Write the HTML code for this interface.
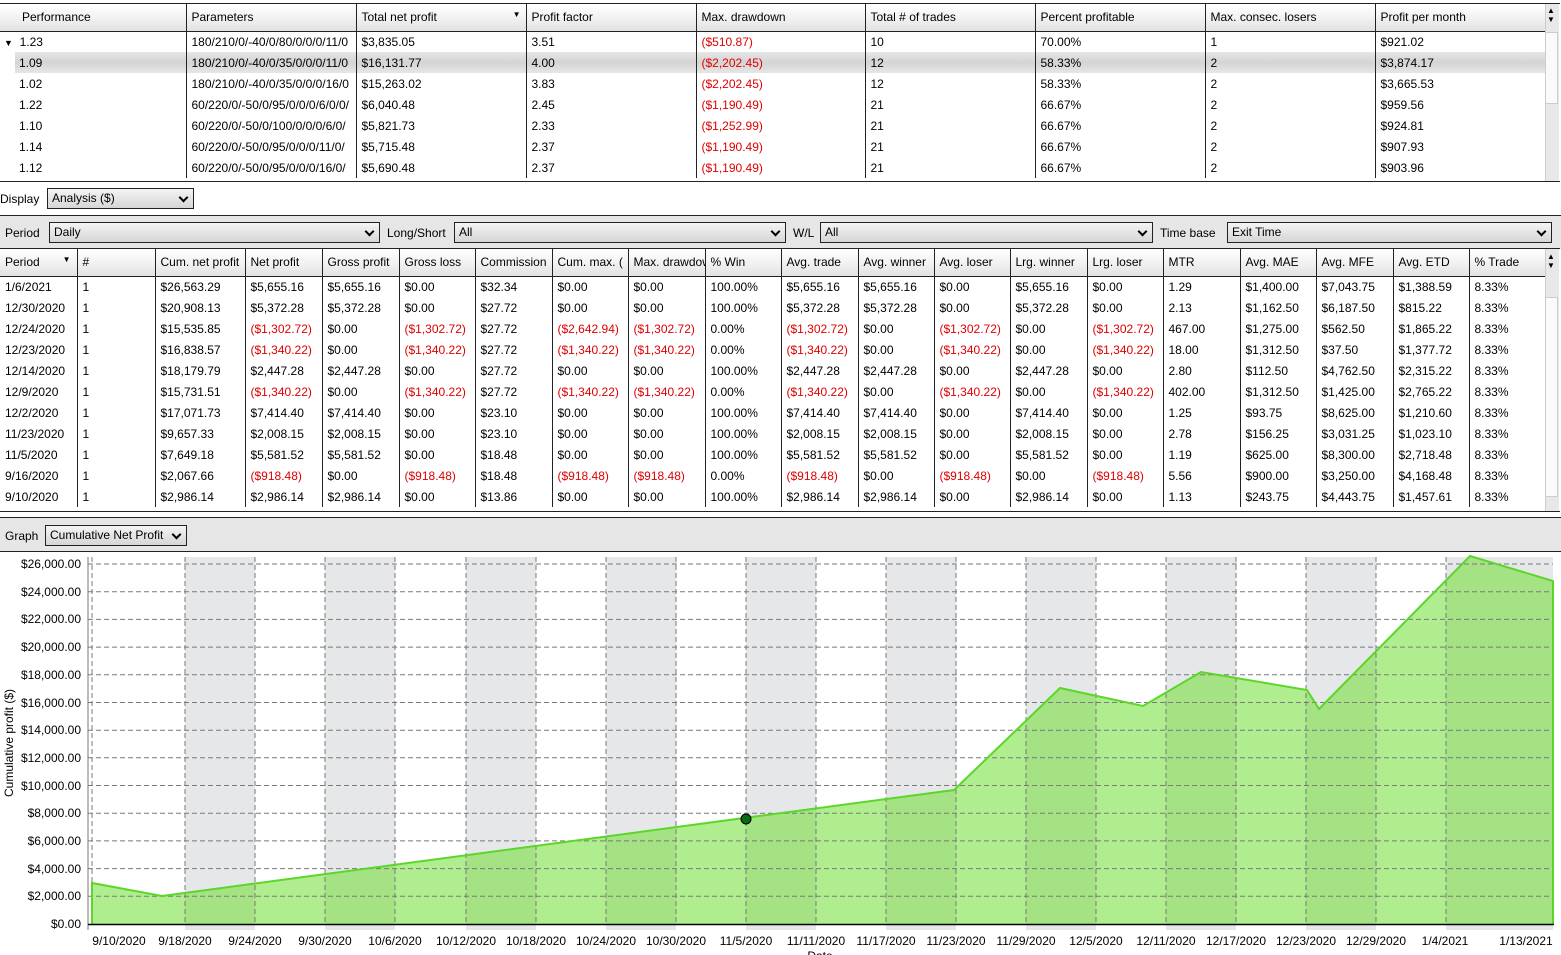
<!DOCTYPE html>
<html><head><meta charset="utf-8">
<style>
*{margin:0;padding:0;box-sizing:border-box}
body{width:1561px;height:955px;overflow:hidden;background:#fff;font-family:"Liberation Sans",Arial,sans-serif;font-size:12px;color:#000;position:relative}
.abs{position:absolute}
table{border-collapse:collapse;table-layout:fixed;position:absolute;font-size:12px}
td,th{white-space:nowrap;overflow:hidden;text-align:left;font-weight:normal;padding-left:5px;border-left:1px solid #222}
th{height:27px;background:linear-gradient(#ffffff,#f4f4f4 45%,#e2e2e2);border-bottom:1px solid #222}
td{height:21px}
.r{color:#e00000}
.sel{position:absolute;height:21px;border:1px solid #222;background:linear-gradient(#f4f4f4,#d6d6d6);padding-left:4px;line-height:19px}
.sel:after{content:"";position:absolute;right:6px;top:5px;width:5px;height:5px;border-right:2px solid #000;border-bottom:2px solid #000;transform:rotate(45deg)}
.sb{position:absolute;background:#e8e8e8;border-left:1px solid #ccc}
</style></head><body>

<!-- top table -->
<div class="abs" style="left:0;top:3px;width:1560px;height:179px;border-top:1px solid #222;border-bottom:1px solid #222"></div>
<div class="abs" style="left:15px;top:52px;width:1530px;height:21px;background:linear-gradient(#e6e6e6,#d4d4d4 50%,#e6e6e6)"></div>
<table style="left:0;top:4px;width:1545px">
<colgroup><col style="width:186px"><col style="width:170px"><col style="width:170px"><col style="width:170px"><col style="width:169px"><col style="width:170px"><col style="width:170px"><col style="width:170px"><col style="width:170px"></colgroup>
<tr><th style="border-left:none;padding-left:22px">Performance</th><th>Parameters</th><th>Total net profit<span style="float:right;margin-right:5px;font-size:8px">&#9660;</span></th><th>Profit factor</th><th>Max. drawdown</th><th>Total # of trades</th><th>Percent profitable</th><th>Max. consec. losers</th><th>Profit per month</th></tr>
<tr><td style="border-left:none;padding-left:4px"><span style="font-size:9px">&#9660;</span>&nbsp; 1.23</td><td>180/210/0/-40/0/80/0/0/0/11/0</td><td>$3,835.05</td><td>3.51</td><td class="r">($510.87)</td><td>10</td><td>70.00%</td><td>1</td><td>$921.02</td></tr>
<tr><td style="border-left:none;padding-left:19px">1.09</td><td>180/210/0/-40/0/35/0/0/0/11/0</td><td>$16,131.77</td><td>4.00</td><td class="r">($2,202.45)</td><td>12</td><td>58.33%</td><td>2</td><td>$3,874.17</td></tr>
<tr><td style="border-left:none;padding-left:19px">1.02</td><td>180/210/0/-40/0/35/0/0/0/16/0</td><td>$15,263.02</td><td>3.83</td><td class="r">($2,202.45)</td><td>12</td><td>58.33%</td><td>2</td><td>$3,665.53</td></tr>
<tr><td style="border-left:none;padding-left:19px">1.22</td><td>60/220/0/-50/0/95/0/0/0/6/0/0/</td><td>$6,040.48</td><td>2.45</td><td class="r">($1,190.49)</td><td>21</td><td>66.67%</td><td>2</td><td>$959.56</td></tr>
<tr><td style="border-left:none;padding-left:19px">1.10</td><td>60/220/0/-50/0/100/0/0/0/6/0/</td><td>$5,821.73</td><td>2.33</td><td class="r">($1,252.99)</td><td>21</td><td>66.67%</td><td>2</td><td>$924.81</td></tr>
<tr><td style="border-left:none;padding-left:19px">1.14</td><td>60/220/0/-50/0/95/0/0/0/11/0/</td><td>$5,715.48</td><td>2.37</td><td class="r">($1,190.49)</td><td>21</td><td>66.67%</td><td>2</td><td>$907.93</td></tr>
<tr><td style="border-left:none;padding-left:19px">1.12</td><td>60/220/0/-50/0/95/0/0/0/16/0/</td><td>$5,690.48</td><td>2.37</td><td class="r">($1,190.49)</td><td>21</td><td>66.67%</td><td>2</td><td>$903.96</td></tr>
</table>
<div class="sb" style="left:1545px;top:4px;width:14px;height:177px"></div>
<div class="abs" style="left:1545px;top:32px;width:13px;height:72px;background:#fafafa;border:1px solid #ccc"></div>
<div class="abs" style="left:1547px;top:6px;font-size:8px;line-height:9px">&#9650;<br>&#9660;</div>

<!-- display -->
<div class="abs" style="left:0;top:192px">Display</div>
<div class="sel" style="left:47px;top:188px;width:147px">Analysis ($)</div>

<!-- filters -->
<div class="abs" style="left:0;top:215px;width:1561px;height:34px;background:#e6e6e6;border-top:1px solid #222"></div>
<div class="abs" style="left:5px;top:226px">Period</div>
<div class="sel" style="left:49px;top:222px;width:331px">Daily</div>
<div class="abs" style="left:387px;top:226px">Long/Short</div>
<div class="sel" style="left:454px;top:222px;width:332px">All</div>
<div class="abs" style="left:793px;top:226px">W/L</div>
<div class="sel" style="left:820px;top:222px;width:333px">All</div>
<div class="abs" style="left:1160px;top:226px">Time base</div>
<div class="sel" style="left:1227px;top:222px;width:325px">Exit Time</div>

<!-- second table -->
<div class="abs" style="left:0;top:248px;width:1560px;height:264px;border-top:1px solid #222;border-bottom:1px solid #222"></div>
<table style="left:0;top:249px;width:1545px">
<colgroup><col style="width:77px"><col style="width:78px"><col style="width:90px"><col style="width:77px"><col style="width:77px"><col style="width:76px"><col style="width:77px"><col style="width:76px"><col style="width:77px"><col style="width:76px"><col style="width:77px"><col style="width:76px"><col style="width:76px"><col style="width:77px"><col style="width:76px"><col style="width:77px"><col style="width:76px"><col style="width:77px"><col style="width:76px"><col style="width:76px"></colgroup>
<tr><th style="border-left:none">Period<span style="float:right;margin-right:6px;font-size:8px">&#9660;</span></th><th>#</th><th>Cum. net profit</th><th>Net profit</th><th>Gross profit</th><th>Gross loss</th><th>Commission</th><th>Cum. max. (</th><th>Max. drawdown</th><th>% Win</th><th>Avg. trade</th><th>Avg. winner</th><th>Avg. loser</th><th>Lrg. winner</th><th>Lrg. loser</th><th>MTR</th><th>Avg. MAE</th><th>Avg. MFE</th><th>Avg. ETD</th><th>% Trade</th></tr>
<tr><td style="border-left:none">1/6/2021</td><td>1</td><td>$26,563.29</td><td>$5,655.16</td><td>$5,655.16</td><td>$0.00</td><td>$32.34</td><td>$0.00</td><td>$0.00</td><td>100.00%</td><td>$5,655.16</td><td>$5,655.16</td><td>$0.00</td><td>$5,655.16</td><td>$0.00</td><td>1.29</td><td>$1,400.00</td><td>$7,043.75</td><td>$1,388.59</td><td>8.33%</td></tr>
<tr><td style="border-left:none">12/30/2020</td><td>1</td><td>$20,908.13</td><td>$5,372.28</td><td>$5,372.28</td><td>$0.00</td><td>$27.72</td><td>$0.00</td><td>$0.00</td><td>100.00%</td><td>$5,372.28</td><td>$5,372.28</td><td>$0.00</td><td>$5,372.28</td><td>$0.00</td><td>2.13</td><td>$1,162.50</td><td>$6,187.50</td><td>$815.22</td><td>8.33%</td></tr>
<tr><td style="border-left:none">12/24/2020</td><td>1</td><td>$15,535.85</td><td class="r">($1,302.72)</td><td>$0.00</td><td class="r">($1,302.72)</td><td>$27.72</td><td class="r">($2,642.94)</td><td class="r">($1,302.72)</td><td>0.00%</td><td class="r">($1,302.72)</td><td>$0.00</td><td class="r">($1,302.72)</td><td>$0.00</td><td class="r">($1,302.72)</td><td>467.00</td><td>$1,275.00</td><td>$562.50</td><td>$1,865.22</td><td>8.33%</td></tr>
<tr><td style="border-left:none">12/23/2020</td><td>1</td><td>$16,838.57</td><td class="r">($1,340.22)</td><td>$0.00</td><td class="r">($1,340.22)</td><td>$27.72</td><td class="r">($1,340.22)</td><td class="r">($1,340.22)</td><td>0.00%</td><td class="r">($1,340.22)</td><td>$0.00</td><td class="r">($1,340.22)</td><td>$0.00</td><td class="r">($1,340.22)</td><td>18.00</td><td>$1,312.50</td><td>$37.50</td><td>$1,377.72</td><td>8.33%</td></tr>
<tr><td style="border-left:none">12/14/2020</td><td>1</td><td>$18,179.79</td><td>$2,447.28</td><td>$2,447.28</td><td>$0.00</td><td>$27.72</td><td>$0.00</td><td>$0.00</td><td>100.00%</td><td>$2,447.28</td><td>$2,447.28</td><td>$0.00</td><td>$2,447.28</td><td>$0.00</td><td>2.80</td><td>$112.50</td><td>$4,762.50</td><td>$2,315.22</td><td>8.33%</td></tr>
<tr><td style="border-left:none">12/9/2020</td><td>1</td><td>$15,731.51</td><td class="r">($1,340.22)</td><td>$0.00</td><td class="r">($1,340.22)</td><td>$27.72</td><td class="r">($1,340.22)</td><td class="r">($1,340.22)</td><td>0.00%</td><td class="r">($1,340.22)</td><td>$0.00</td><td class="r">($1,340.22)</td><td>$0.00</td><td class="r">($1,340.22)</td><td>402.00</td><td>$1,312.50</td><td>$1,425.00</td><td>$2,765.22</td><td>8.33%</td></tr>
<tr><td style="border-left:none">12/2/2020</td><td>1</td><td>$17,071.73</td><td>$7,414.40</td><td>$7,414.40</td><td>$0.00</td><td>$23.10</td><td>$0.00</td><td>$0.00</td><td>100.00%</td><td>$7,414.40</td><td>$7,414.40</td><td>$0.00</td><td>$7,414.40</td><td>$0.00</td><td>1.25</td><td>$93.75</td><td>$8,625.00</td><td>$1,210.60</td><td>8.33%</td></tr>
<tr><td style="border-left:none">11/23/2020</td><td>1</td><td>$9,657.33</td><td>$2,008.15</td><td>$2,008.15</td><td>$0.00</td><td>$23.10</td><td>$0.00</td><td>$0.00</td><td>100.00%</td><td>$2,008.15</td><td>$2,008.15</td><td>$0.00</td><td>$2,008.15</td><td>$0.00</td><td>2.78</td><td>$156.25</td><td>$3,031.25</td><td>$1,023.10</td><td>8.33%</td></tr>
<tr><td style="border-left:none">11/5/2020</td><td>1</td><td>$7,649.18</td><td>$5,581.52</td><td>$5,581.52</td><td>$0.00</td><td>$18.48</td><td>$0.00</td><td>$0.00</td><td>100.00%</td><td>$5,581.52</td><td>$5,581.52</td><td>$0.00</td><td>$5,581.52</td><td>$0.00</td><td>1.19</td><td>$625.00</td><td>$8,300.00</td><td>$2,718.48</td><td>8.33%</td></tr>
<tr><td style="border-left:none">9/16/2020</td><td>1</td><td>$2,067.66</td><td class="r">($918.48)</td><td>$0.00</td><td class="r">($918.48)</td><td>$18.48</td><td class="r">($918.48)</td><td class="r">($918.48)</td><td>0.00%</td><td class="r">($918.48)</td><td>$0.00</td><td class="r">($918.48)</td><td>$0.00</td><td class="r">($918.48)</td><td>5.56</td><td>$900.00</td><td>$3,250.00</td><td>$4,168.48</td><td>8.33%</td></tr>
<tr><td style="border-left:none">9/10/2020</td><td>1</td><td>$2,986.14</td><td>$2,986.14</td><td>$2,986.14</td><td>$0.00</td><td>$13.86</td><td>$0.00</td><td>$0.00</td><td>100.00%</td><td>$2,986.14</td><td>$2,986.14</td><td>$0.00</td><td>$2,986.14</td><td>$0.00</td><td>1.13</td><td>$243.75</td><td>$4,443.75</td><td>$1,457.61</td><td>8.33%</td></tr>
</table>
<div class="sb" style="left:1545px;top:249px;width:14px;height:262px"></div>
<div class="abs" style="left:1545px;top:297px;width:13px;height:200px;background:#fafafa;border:1px solid #ccc"></div>
<div class="abs" style="left:1547px;top:252px;font-size:8px;line-height:9px">&#9650;<br>&#9660;</div>

<!-- graph header -->
<div class="abs" style="left:0;top:517px;width:1561px;height:35px;background:#e6e6e6;border-top:1px solid #222;border-bottom:1px solid #222"></div>
<div class="abs" style="left:5px;top:529px">Graph</div>
<div class="sel" style="left:45px;top:525px;width:142px">Cumulative Net Profit</div>

<!-- chart -->
<svg class="abs" style="left:0;top:552px" width="1561" height="403" viewBox="0 552 1561 403" font-family="Liberation Sans, Arial, sans-serif" font-size="12">
<g fill="#e6e7e9">
<rect x="185" y="557" width="70" height="373"/><rect x="325" y="557" width="70" height="373"/><rect x="466" y="557" width="70" height="373"/><rect x="606" y="557" width="70" height="373"/><rect x="746" y="557" width="70" height="373"/><rect x="886" y="557" width="70" height="373"/><rect x="1026" y="557" width="70" height="373"/><rect x="1166" y="557" width="70" height="373"/><rect x="1306" y="557" width="70" height="373"/><rect x="1446" y="557" width="107" height="373"/>
</g>
<polygon points="92,924 92,883 162,896 744,818 954,790 1060,688 1143,706 1201,672 1307,690 1319,709 1470,556 1553,581 1553,924" fill="rgb(110,222,50)" fill-opacity="0.55"/>
<g stroke="#7a7a7a" stroke-dasharray="5,3" stroke-width="1">
<line x1="88" x2="1553" y1="564" y2="564"/><line x1="88" x2="1553" y1="591.7" y2="591.7"/><line x1="88" x2="1553" y1="619.4" y2="619.4"/><line x1="88" x2="1553" y1="647.1" y2="647.1"/><line x1="88" x2="1553" y1="674.8" y2="674.8"/><line x1="88" x2="1553" y1="702.5" y2="702.5"/><line x1="88" x2="1553" y1="730.2" y2="730.2"/><line x1="88" x2="1553" y1="757.8" y2="757.8"/><line x1="88" x2="1553" y1="785.5" y2="785.5"/><line x1="88" x2="1553" y1="813.2" y2="813.2"/><line x1="88" x2="1553" y1="840.9" y2="840.9"/><line x1="88" x2="1553" y1="868.6" y2="868.6"/><line x1="88" x2="1553" y1="896.3" y2="896.3"/>
<line x1="92" x2="92" y1="557" y2="924"/><line x1="185" x2="185" y1="557" y2="924"/><line x1="255" x2="255" y1="557" y2="924"/><line x1="325" x2="325" y1="557" y2="924"/><line x1="395" x2="395" y1="557" y2="924"/><line x1="466" x2="466" y1="557" y2="924"/><line x1="536" x2="536" y1="557" y2="924"/><line x1="606" x2="606" y1="557" y2="924"/><line x1="676" x2="676" y1="557" y2="924"/><line x1="746" x2="746" y1="557" y2="924"/><line x1="816" x2="816" y1="557" y2="924"/><line x1="886" x2="886" y1="557" y2="924"/><line x1="956" x2="956" y1="557" y2="924"/><line x1="1026" x2="1026" y1="557" y2="924"/><line x1="1096" x2="1096" y1="557" y2="924"/><line x1="1166" x2="1166" y1="557" y2="924"/><line x1="1236" x2="1236" y1="557" y2="924"/><line x1="1306" x2="1306" y1="557" y2="924"/><line x1="1376" x2="1376" y1="557" y2="924"/><line x1="1446" x2="1446" y1="557" y2="924"/>
</g>
<polyline points="92,924 92,883 162,896 744,818 954,790 1060,688 1143,706 1201,672 1307,690 1319,709 1470,556 1553,581 1553,924" fill="none" stroke="#5cd62a" stroke-width="2"/>
<circle cx="746" cy="819" r="5" fill="#0b6a12" stroke="#000" stroke-width="1"/>
<line x1="88" x2="88" y1="557" y2="930" stroke="#777"/>
<line x1="88" x2="1554" y1="924.5" y2="924.5" stroke="#000" stroke-width="1.5"/>
<g fill="#000" text-anchor="end">
<text x="81" y="568">$26,000.00</text><text x="81" y="596">$24,000.00</text><text x="81" y="623">$22,000.00</text><text x="81" y="651">$20,000.00</text><text x="81" y="679">$18,000.00</text><text x="81" y="707">$16,000.00</text><text x="81" y="734">$14,000.00</text><text x="81" y="762">$12,000.00</text><text x="81" y="790">$10,000.00</text><text x="81" y="817">$8,000.00</text><text x="81" y="845">$6,000.00</text><text x="81" y="873">$4,000.00</text><text x="81" y="900">$2,000.00</text><text x="81" y="928">$0.00</text>
</g>
<g fill="#000" text-anchor="middle">
<text x="119" y="945">9/10/2020</text><text x="185" y="945">9/18/2020</text><text x="255" y="945">9/24/2020</text><text x="325" y="945">9/30/2020</text><text x="395" y="945">10/6/2020</text><text x="466" y="945">10/12/2020</text><text x="536" y="945">10/18/2020</text><text x="606" y="945">10/24/2020</text><text x="676" y="945">10/30/2020</text><text x="746" y="945">11/5/2020</text><text x="816" y="945">11/11/2020</text><text x="886" y="945">11/17/2020</text><text x="956" y="945">11/23/2020</text><text x="1026" y="945">11/29/2020</text><text x="1096" y="945">12/5/2020</text><text x="1166" y="945">12/11/2020</text><text x="1236" y="945">12/17/2020</text><text x="1306" y="945">12/23/2020</text><text x="1376" y="945">12/29/2020</text><text x="1445" y="945">1/4/2021</text><text x="1526" y="945">1/13/2021</text>
<text x="820" y="960">Date</text>
<text transform="translate(13,743) rotate(-90)">Cumulative profit ($)</text>
</g>
</svg>
</body></html>
